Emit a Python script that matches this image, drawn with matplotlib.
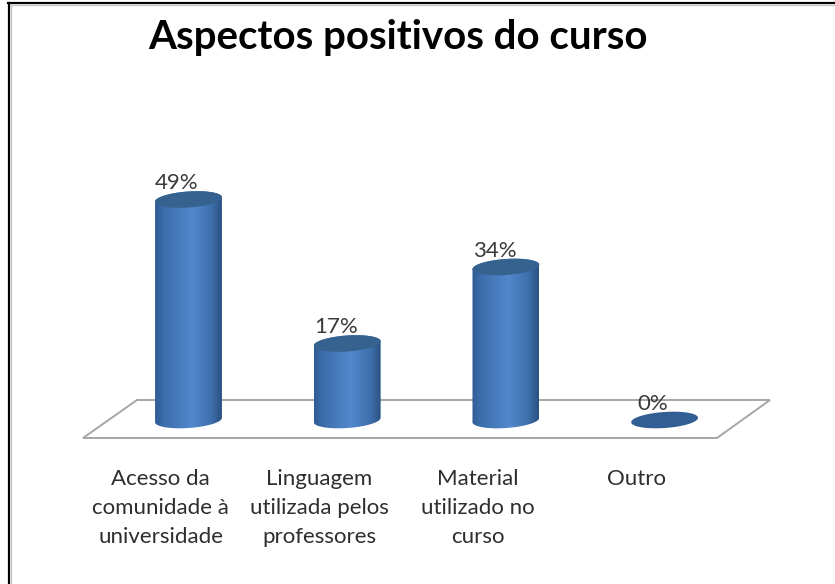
"""Cylinder column chart: Aspectos positivos do curso."""

import numpy as np
import matplotlib

matplotlib.use("Agg")
import matplotlib.pyplot as plt
from matplotlib.colors import LinearSegmentedColormap
from matplotlib.patches import Polygon
from matplotlib.transforms import Affine2D

TITLE = "Aspectos positivos do curso"
CATEGORIES = [
    "Acesso da\ncomunidade à\nuniversidade",
    "Linguagem\nutilizada pelos\nprofessores",
    "Material\nutilizado no\ncurso",
    "Outro",
]
VALUES = [49, 17, 34, 0]

W, H = 835, 584
X_UNIT = 158.7  # px per category
Y_UNIT = 4.5  # px per percent
X0_PX, Y0_PX = 188.5, 420  # where category 0 / value 0 sit
FLOOR_FRONT_PX = 439
RX, RY, TILT = 33.5, 8, np.deg2rad(4)

plt.rcParams["font.family"] = ["Lato", "DejaVu Sans"]

fig = plt.figure(figsize=(W / 100, H / 100), dpi=100, facecolor="white")
ax = fig.add_axes([0, 1 - FLOOR_FRONT_PX / H, 1, FLOOR_FRONT_PX / H])
ax.set_facecolor("none")
for s in ax.spines.values():
    s.set_visible(False)

# figure pixels, y down, for the frame and the floor
px = Affine2D().scale(1 / W, -1 / H).translate(0, 1) + fig.transFigure

ax.add_patch(Polygon([(83, 438), (137, 400), (770, 400), (717, 438)], closed=True,
                     transform=px, fc="white", ec="#a6a6a6", lw=1.4, zorder=1, clip_on=False))
fig.add_artist(plt.Line2D([9, 9], [3, H], transform=px, color="black", lw=1.6))
fig.add_artist(plt.Line2D([8, W], [3, 3], transform=px, color="black", lw=1.6))
fig.add_artist(plt.Line2D([11, 11], [5, H], transform=px, color="#c4c4c4", lw=1))
fig.add_artist(plt.Line2D([11, W], [5, 5], transform=px, color="#c4c4c4", lw=1))

cmap = LinearSegmentedColormap.from_list(
    "cyl",
    [(0, "#2f5c94"), (0.12, "#3c6dab"), (0.55, "#5388cd"), (0.85, "#3e6fac"), (1, "#2a5182")],
)
gradient = np.linspace(0, 1, 128)[None, :]


def ellipse(xc, yc, t):
    """Points of the tilted rim, in data units."""
    dx = RX * np.cos(t) * np.cos(TILT) + RY * np.sin(t) * np.sin(TILT)
    dy = RX * np.cos(t) * np.sin(TILT) - RY * np.sin(t) * np.cos(TILT)
    return np.column_stack([xc + dx / X_UNIT, yc + dy / Y_UNIT])


full = np.linspace(0, 2 * np.pi, 80)
for i, v in enumerate(VALUES):
    if v > 0:
        # back half of the top rim, then front half of the bottom rim
        body = np.vstack([
            ellipse(i, v, np.linspace(np.pi, 2 * np.pi, 40)),
            ellipse(i, 0, np.linspace(0, np.pi, 40)),
        ])
        patch = Polygon(body, closed=True, transform=ax.transData, fc="none", ec="none")
        ax.add_patch(patch)
        im = ax.imshow(gradient, cmap=cmap, aspect="auto", zorder=3,
                       extent=[i - RX / X_UNIT, i + RX / X_UNIT, -5, v + 5])
        im.set_clip_path(patch)
    ax.add_patch(Polygon(ellipse(i, v, full), closed=True, fc="#36628f" if v else "#335e94",
                         ec="none", zorder=4))
    ax.annotate(f"{v}%", (i, v), xytext=(-8.3, 11.6), textcoords="offset points",
                ha="center", va="center", fontsize=16, color="#3a3a3a", zorder=5)

ax.set_xlim(-X0_PX / X_UNIT, (W - X0_PX) / X_UNIT)
ax.set_ylim((Y0_PX - FLOOR_FRONT_PX) / Y_UNIT, Y0_PX / Y_UNIT)
ax.set_xticks([])
ax.set_yticks([])
for i, name in enumerate(CATEGORIES):
    # category labels sit left of their columns
    ax.annotate(name, (i, 0), xycoords=("data", "axes fraction"),
                xytext=(-20, -21.5), textcoords="offset points",
                ha="center", va="top", fontsize=16, color="#2e2e2e", linespacing=1.57,
                annotation_clip=False)

fig.text(397.5 / W, 1 - 38 / H, TITLE, ha="center", va="center",
         fontsize=29, fontweight="bold", color="black")

fig.savefig("out.png", dpi=100)
